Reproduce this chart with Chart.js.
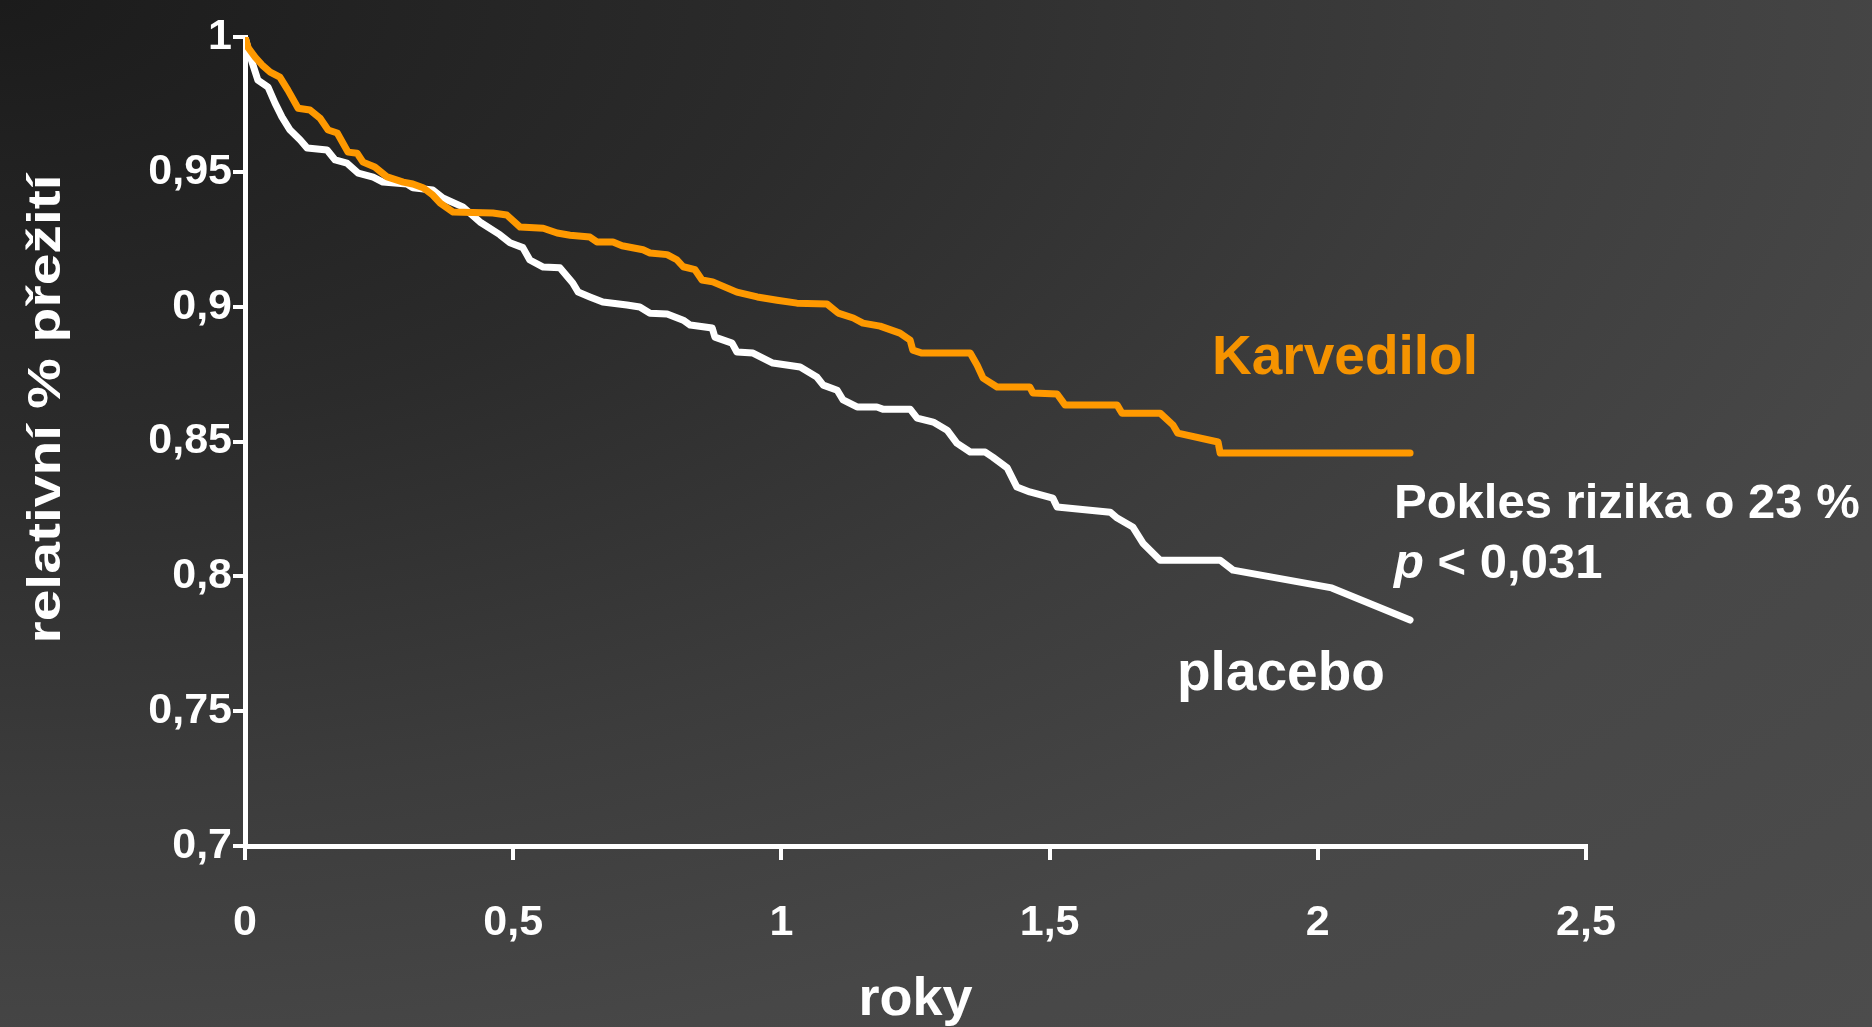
<!DOCTYPE html>
<html>
<head>
<meta charset="utf-8">
<title>Karvedilol vs placebo</title>
<script src="https://cdn.jsdelivr.net/npm/chart.js@4.4.1/dist/chart.umd.min.js"></script>
<style>
  html, body { margin: 0; padding: 0; }
  body {
    width: 1872px; height: 1027px; overflow: hidden;
    background: radial-gradient(ellipse farthest-corner at 0 0,
      #1b1b1b 0%, #2b2b2b 30%, #3c3c3c 55%, #474747 75%, #4c4c4c 100%);
  }
  #wrap { width: 1872px; height: 1027px; }
</style>
</head>
<body>
<div id="wrap"><canvas id="km" width="1872" height="1027"></canvas></div>
<script>
/* ---- data ---- */
const karvTime = [0, 0.006, 0.019, 0.032, 0.047, 0.065, 0.080, 0.099, 0.121, 0.140, 0.155, 0.172, 0.192, 0.209, 0.220, 0.242, 0.265, 0.295, 0.313, 0.332, 0.350, 0.364, 0.388, 0.462, 0.488, 0.513, 0.556, 0.582, 0.606, 0.643, 0.656, 0.686, 0.703, 0.742, 0.755, 0.787, 0.805, 0.817, 0.839, 0.852, 0.872, 0.917, 0.955, 0.992, 1.029, 1.085, 1.106, 1.134, 1.152, 1.184, 1.221, 1.240, 1.245, 1.262, 1.352, 1.365, 1.376, 1.402, 1.463, 1.469, 1.514, 1.529, 1.626, 1.635, 1.706, 1.730, 1.739, 1.814, 1.818, 2.172];
const karvSurv = [1.000, 0.996, 0.9925, 0.9896, 0.987, 0.9851, 0.9803, 0.9736, 0.9729, 0.9699, 0.9655, 0.9644, 0.9573, 0.9569, 0.9536, 0.9518, 0.9481, 0.9462, 0.9455, 0.9441, 0.9414, 0.9384, 0.9351, 0.9347, 0.934, 0.9295, 0.9291, 0.9273, 0.9265, 0.9258, 0.924, 0.924, 0.9226, 0.9211, 0.9199, 0.9193, 0.9174, 0.9148, 0.9137, 0.9099, 0.9092, 0.9054, 0.9036, 0.9024, 0.9013, 0.901, 0.8976, 0.8958, 0.8939, 0.8928, 0.8902, 0.8876, 0.8839, 0.8828, 0.8828, 0.8783, 0.8735, 0.8702, 0.8702, 0.868, 0.8676, 0.8635, 0.8635, 0.8605, 0.8605, 0.8561, 0.8531, 0.8498, 0.8457, 0.8457];

const placTime = [0, 0.009, 0.024, 0.043, 0.056, 0.069, 0.084, 0.103, 0.116, 0.153, 0.168, 0.190, 0.211, 0.239, 0.257, 0.302, 0.313, 0.350, 0.369, 0.406, 0.438, 0.475, 0.494, 0.518, 0.531, 0.556, 0.587, 0.611, 0.621, 0.643, 0.667, 0.712, 0.736, 0.755, 0.787, 0.817, 0.830, 0.871, 0.876, 0.908, 0.917, 0.947, 0.984, 1.035, 1.066, 1.078, 1.104, 1.115, 1.141, 1.178, 1.189, 1.240, 1.253, 1.283, 1.309, 1.327, 1.352, 1.380, 1.394, 1.421, 1.439, 1.463, 1.506, 1.514, 1.613, 1.626, 1.655, 1.674, 1.706, 1.818, 1.842, 2.026, 2.172];
const placSurv = [1.000, 0.9933, 0.984, 0.9814, 0.9755, 0.9703, 0.9655, 0.9618, 0.9588, 0.9581, 0.9544, 0.9532, 0.9495, 0.948, 0.9462, 0.9455, 0.9441, 0.9433, 0.9403, 0.937, 0.9314, 0.9267, 0.9237, 0.9219, 0.9173, 0.9147, 0.9144, 0.9088, 0.9054, 0.9036, 0.9017, 0.9006, 0.8999, 0.8976, 0.8973, 0.895, 0.8932, 0.8921, 0.8887, 0.8865, 0.8832, 0.8828, 0.8791, 0.8776, 0.8739, 0.8709, 0.869, 0.8654, 0.8628, 0.8628, 0.862, 0.862, 0.8587, 0.8572, 0.8542, 0.8494, 0.8461, 0.8461, 0.8442, 0.8402, 0.8331, 0.8313, 0.829, 0.8257, 0.8238, 0.8216, 0.8183, 0.8123, 0.806, 0.806, 0.8023, 0.7957, 0.7838];

/* ---- axes ---- */
const xTicks = [0, 0.5, 1, 1.5, 2, 2.5];
const xTickLabels = ["0", "0,5", "1", "1,5", "2", "2,5"];
const yTicks = [0.7, 0.75, 0.8, 0.85, 0.9, 0.95, 1];
const yTickLabels = ["0,7", "0,75", "0,8", "0,85", "0,9", "0,95", "1"];
const xTitle = "roky";
const yTitle = "relativní % přežití";

const FONT = "'Liberation Sans', Arial, Helvetica, sans-serif";
const ORANGE = "#ff9900";
Chart.defaults.font.family = FONT;
Chart.defaults.color = "#ffffff";

function toPoints(ts, vs) {
  return ts.map((t, i) => ({ x: t, y: vs[i] }));
}

/* texty v grafu */
const notesPlugin = {
  id: "notes",
  afterDraw(chart) {
    const ctx = chart.ctx;
    ctx.save();
    ctx.textAlign = "left";
    ctx.textBaseline = "alphabetic";

    ctx.fillStyle = "#f59300";
    ctx.font = "bold 55px " + FONT;
    ctx.fillText("Karvedilol", 1212, 374);

    ctx.fillStyle = "#ffffff";
    ctx.font = "bold 49px " + FONT;
    ctx.fillText("Pokles rizika o 23 %", 1394, 518);

    ctx.font = "italic bold 49px " + FONT;
    ctx.fillText("p", 1394, 578);
    const pw = ctx.measureText("p").width;
    ctx.font = "bold 49px " + FONT;
    ctx.fillText(" < 0,031", 1394 + pw, 578);

    ctx.font = "bold 55px " + FONT;
    ctx.fillText("placebo", 1177, 690);

    // popisek osy y - v originale roztažený
    ctx.translate(60, 409);
    ctx.rotate(-Math.PI / 2);
    ctx.scale(1.24, 1);
    ctx.textAlign = "center";
    ctx.font = "bold 46px " + FONT;
    ctx.fillText(yTitle, 0, 0);
    ctx.restore();
  }
};

new Chart(document.getElementById("km"), {
  type: "line",
  data: {
    datasets: [
      {
        label: "Karvedilol",
        data: toPoints(karvTime, karvSurv),
        borderColor: ORANGE,
        borderWidth: 7,
        pointRadius: 0,
        tension: 0,
        borderCapStyle: "round",
        borderJoinStyle: "round"
      },
      {
        label: "placebo",
        data: toPoints(placTime, placSurv),
        borderColor: "#ffffff",
        borderWidth: 7,
        pointRadius: 0,
        tension: 0,
        borderCapStyle: "round",
        borderJoinStyle: "round"
      }
    ]
  },
  options: {
    responsive: false,
    animation: false,
    devicePixelRatio: 1,
    layout: { padding: { top: 37, right: 286, bottom: 0, left: 0 } },
    plugins: { legend: { display: false }, tooltip: { enabled: false } },
    scales: {
      x: {
        type: "linear",
        min: 0,
        max: 2.5,
        afterFit: s => { s.height = 181; },
        afterBuildTicks: s => { s.ticks = xTicks.map(v => ({ value: v })); },
        ticks: {
          callback: (v, i) => xTickLabels[i],
          font: { size: 43, weight: "bold" },
          color: "#ffffff",
          padding: 37,
          maxRotation: 0,
          autoSkip: false
        },
        grid: { drawOnChartArea: false, drawTicks: true, tickLength: 14, color: "#ffffff", lineWidth: 4 },
        border: { color: "#ffffff", width: 5 },
        title: {
          display: true,
          text: xTitle,
          color: "#ffffff",
          font: { size: 54, weight: "bold" },
          padding: { top: 0, bottom: -6 }
        }
      },
      y: {
        type: "linear",
        min: 0.7,
        max: 1,
        afterFit: s => { s.width = 245; },
        afterBuildTicks: s => { s.ticks = yTicks.map(v => ({ value: v })); },
        ticks: {
          callback: (v, i) => yTickLabels[i],
          font: { size: 43, weight: "bold" },
          color: "#ffffff",
          padding: 1,
          autoSkip: false
        },
        grid: { drawOnChartArea: false, drawTicks: true, tickLength: 12, color: "#ffffff", lineWidth: 4 },
        border: { color: "#ffffff", width: 5 }
      }
    }
  },
  plugins: [notesPlugin]
});
</script>
</body>
</html>
